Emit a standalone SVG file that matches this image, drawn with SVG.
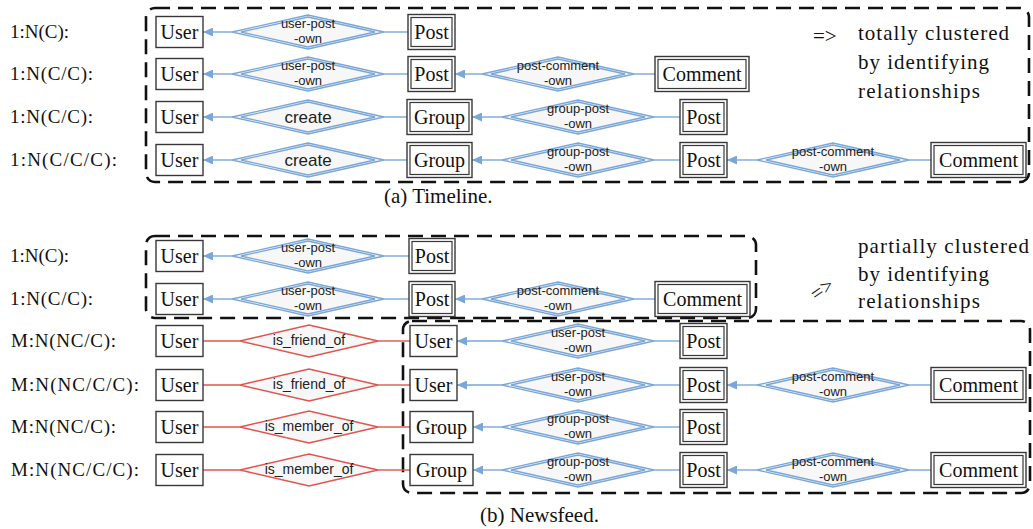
<svg xmlns="http://www.w3.org/2000/svg" xmlns:xlink="http://www.w3.org/1999/xlink" width="1033" height="529" viewBox="0 0 1033 529">
  <style>
    .lbl { font-family: "Liberation Serif", "Times New Roman", serif; font-size: 19px; fill: #111; }
    .side { font-family: "Liberation Serif", "Times New Roman", serif; font-size: 21px; fill: #111; }
    .cap { font-family: "Liberation Serif", "Times New Roman", serif; font-size: 21px; fill: #111; }
    .ent { font-family: "Liberation Serif", "Times New Roman", serif; font-size: 20px; fill: #111; text-anchor: middle; }
    .rel { font-family: "Liberation Sans", Arial, sans-serif; font-size: 13px; fill: #222; text-anchor: middle; }
    .rel-red { font-family: "Liberation Sans", Arial, sans-serif; font-size: 14px; fill: #222; text-anchor: middle; }
    .rel-big { font-family: "Liberation Sans", Arial, sans-serif; font-size: 17px; fill: #222; text-anchor: middle; }
    .box { fill: #fff; stroke: #383838; stroke-width: 1.4; }
    .wbox { fill: none; stroke: #383838; stroke-width: 1.2; }
    .dia { fill: #f7f7f7; stroke: #7aa6d8; stroke-width: 1.3; }
    .rdia { fill: #f7f7f7; stroke: #e0554d; stroke-width: 1.4; }
    .cb { stroke: #7aa6d8; stroke-width: 1.4; fill: none; }
    .cr { stroke: #e0554d; stroke-width: 1.4; fill: none; }
    .arr { marker-end: url(#ah); }
    .dash { fill: none; stroke: #111; stroke-width: 2.6; stroke-dasharray: 15 8; }
    .sym { font-family: "Liberation Serif", "Times New Roman", serif; font-size: 21px; fill: #111; }
  </style>
  <defs>
    <marker id="ah" viewBox="0 0 10 9" refX="10" refY="4.5" markerWidth="10" markerHeight="9" markerUnits="userSpaceOnUse" orient="auto">
      <path d="M0,0 L10,4.5 L0,9 z" fill="#7aa6d8"/>
    </marker>
    <!-- identifying relationship: double diamond -->
    <g id="ddia" class="dia">
      <polygon points="-76,0 0,-17 76,0 0,17"/>
      <polygon points="-67,0 0,-15 67,0 0,15"/>
    </g>
    <!-- non-identifying relationship: single red diamond -->
    <polygon id="rd" class="rdia" points="-69,0 0,-16 69,0 0,16"/>
  </defs>

  <rect width="1033" height="529" fill="#fff"/>

  <!-- cluster outlines -->
  <g id="clusters">
    <rect class="dash" x="146" y="8" width="883" height="174" rx="9"/>
    <rect class="dash" x="146" y="236" width="610" height="82" rx="9"/>
    <rect class="dash" x="403" y="321" width="627" height="172" rx="9"/>
  </g>

  <!-- row labels -->
  <g id="row-labels" class="lbl">
    <text x="10" y="38" textLength="59" lengthAdjust="spacing">1:N(C):</text>
    <text x="10" y="80" textLength="83" lengthAdjust="spacing">1:N(C/C):</text>
    <text x="10" y="123" textLength="83" lengthAdjust="spacing">1:N(C/C):</text>
    <text x="10" y="166" textLength="107" lengthAdjust="spacing">1:N(C/C/C):</text>
    <text x="10" y="262" textLength="59" lengthAdjust="spacing">1:N(C):</text>
    <text x="10" y="305" textLength="83" lengthAdjust="spacing">1:N(C/C):</text>
    <text x="11" y="347" textLength="105" lengthAdjust="spacing">M:N(NC/C):</text>
    <text x="11" y="391" textLength="128" lengthAdjust="spacing">M:N(NC/C/C):</text>
    <text x="11" y="433" textLength="105" lengthAdjust="spacing">M:N(NC/C):</text>
    <text x="11" y="476" textLength="128" lengthAdjust="spacing">M:N(NC/C/C):</text>
  </g>

  <!-- connectors -->
  <g id="connectors">
    <!-- (a) row 1 -->
    <line class="cb arr" x1="232" y1="32" x2="203" y2="32"/>
    <line class="cb" x1="384" y1="32" x2="408" y2="32"/>
    <!-- (a) row 2 -->
    <line class="cb arr" x1="232" y1="74" x2="203" y2="74"/>
    <line class="cb" x1="384" y1="74" x2="408" y2="74"/>
    <line class="cb arr" x1="482" y1="74" x2="455" y2="74"/>
    <line class="cb" x1="634" y1="74" x2="655" y2="74"/>
    <!-- (a) row 3 -->
    <line class="cb arr" x1="232" y1="117" x2="203" y2="117"/>
    <line class="cb" x1="384" y1="117" x2="407" y2="117"/>
    <line class="cb arr" x1="502" y1="117" x2="472" y2="117"/>
    <line class="cb" x1="654" y1="117" x2="680" y2="117"/>
    <!-- (a) row 4 -->
    <line class="cb arr" x1="232" y1="160" x2="203" y2="160"/>
    <line class="cb" x1="384" y1="160" x2="407" y2="160"/>
    <line class="cb arr" x1="502" y1="160" x2="472" y2="160"/>
    <line class="cb" x1="654" y1="160" x2="680" y2="160"/>
    <line class="cb arr" x1="757" y1="160" x2="727" y2="160"/>
    <line class="cb" x1="909" y1="160" x2="931" y2="160"/>
    <!-- (b) row 1 -->
    <line class="cb arr" x1="232" y1="256" x2="203" y2="256"/>
    <line class="cb" x1="384" y1="256" x2="409" y2="256"/>
    <!-- (b) row 2 -->
    <line class="cb arr" x1="232" y1="299" x2="203" y2="299"/>
    <line class="cb" x1="384" y1="299" x2="409" y2="299"/>
    <line class="cb arr" x1="482" y1="299" x2="455" y2="299"/>
    <line class="cb" x1="634" y1="299" x2="655" y2="299"/>
    <!-- (b) row 3 -->
    <line class="cr" x1="203" y1="341" x2="240" y2="341"/>
    <line class="cr" x1="378" y1="341" x2="410" y2="341"/>
    <line class="cb arr" x1="502" y1="341" x2="457" y2="341"/>
    <line class="cb" x1="654" y1="341" x2="680" y2="341"/>
    <!-- (b) row 4 -->
    <line class="cr" x1="203" y1="385" x2="240" y2="385"/>
    <line class="cr" x1="378" y1="385" x2="410" y2="385"/>
    <line class="cb arr" x1="502" y1="385" x2="457" y2="385"/>
    <line class="cb" x1="654" y1="385" x2="680" y2="385"/>
    <line class="cb arr" x1="757" y1="385" x2="727" y2="385"/>
    <line class="cb" x1="909" y1="385" x2="931" y2="385"/>
    <!-- (b) row 5 -->
    <line class="cr" x1="203" y1="427" x2="240" y2="427"/>
    <line class="cr" x1="378" y1="427" x2="410" y2="427"/>
    <line class="cb arr" x1="502" y1="427" x2="473" y2="427"/>
    <line class="cb" x1="654" y1="427" x2="680" y2="427"/>
    <!-- (b) row 6 -->
    <line class="cr" x1="203" y1="470" x2="240" y2="470"/>
    <line class="cr" x1="378" y1="470" x2="410" y2="470"/>
    <line class="cb arr" x1="502" y1="470" x2="473" y2="470"/>
    <line class="cb" x1="654" y1="470" x2="680" y2="470"/>
    <line class="cb arr" x1="757" y1="470" x2="727" y2="470"/>
    <line class="cb" x1="909" y1="470" x2="931" y2="470"/>
  </g>

  <!-- ===== (a) Timeline ===== -->
  <!-- row 1 -->
  <g id="a1-user"><rect class="box" x="156" y="16.5" width="47" height="31"/><text class="ent" x="179.5" y="38.5">User</text></g>
  <g id="a1-user-post-own"><use xlink:href="#ddia" x="308" y="32"/><text class="rel" x="308" y="28">user-post</text><text class="rel" x="308" y="43">-own</text></g>
  <g id="a1-post"><rect class="box" x="408" y="14.5" width="47" height="35"/><rect class="wbox" x="411" y="17.5" width="41" height="29"/><text class="ent" x="431.5" y="38.5">Post</text></g>
  <!-- row 2 -->
  <g id="a2-user"><rect class="box" x="156" y="58.5" width="47" height="31"/><text class="ent" x="179.5" y="80.5">User</text></g>
  <g id="a2-user-post-own"><use xlink:href="#ddia" x="308" y="74"/><text class="rel" x="308" y="70">user-post</text><text class="rel" x="308" y="85">-own</text></g>
  <g id="a2-post"><rect class="box" x="408" y="56.5" width="47" height="35"/><rect class="wbox" x="411" y="59.5" width="41" height="29"/><text class="ent" x="431.5" y="80.5">Post</text></g>
  <g id="a2-post-comment-own"><use xlink:href="#ddia" x="558" y="74"/><text class="rel" x="558" y="70">post-comment</text><text class="rel" x="558" y="85">-own</text></g>
  <g id="a2-comment"><rect class="box" x="655" y="56.5" width="94" height="35"/><rect class="wbox" x="658" y="59.5" width="88" height="29"/><text class="ent" x="702" y="80.5">Comment</text></g>
  <!-- row 3 -->
  <g id="a3-user"><rect class="box" x="156" y="101.5" width="47" height="31"/><text class="ent" x="179.5" y="123.5">User</text></g>
  <g id="a3-create"><use xlink:href="#ddia" x="308" y="117"/><text class="rel-big" x="308" y="122.5">create</text></g>
  <g id="a3-group"><rect class="box" x="407" y="99.5" width="65" height="35"/><rect class="wbox" x="410" y="102.5" width="59" height="29"/><text class="ent" x="439.5" y="123.5">Group</text></g>
  <g id="a3-group-post-own"><use xlink:href="#ddia" x="578" y="117"/><text class="rel" x="578" y="113">group-post</text><text class="rel" x="578" y="128">-own</text></g>
  <g id="a3-post"><rect class="box" x="680" y="99.5" width="47" height="35"/><rect class="wbox" x="683" y="102.5" width="41" height="29"/><text class="ent" x="703.5" y="123.5">Post</text></g>
  <!-- row 4 -->
  <g id="a4-user"><rect class="box" x="156" y="144.5" width="47" height="31"/><text class="ent" x="179.5" y="166.5">User</text></g>
  <g id="a4-create"><use xlink:href="#ddia" x="308" y="160"/><text class="rel-big" x="308" y="165.5">create</text></g>
  <g id="a4-group"><rect class="box" x="407" y="142.5" width="65" height="35"/><rect class="wbox" x="410" y="145.5" width="59" height="29"/><text class="ent" x="439.5" y="166.5">Group</text></g>
  <g id="a4-group-post-own"><use xlink:href="#ddia" x="578" y="160"/><text class="rel" x="578" y="156">group-post</text><text class="rel" x="578" y="171">-own</text></g>
  <g id="a4-post"><rect class="box" x="680" y="142.5" width="47" height="35"/><rect class="wbox" x="683" y="145.5" width="41" height="29"/><text class="ent" x="703.5" y="166.5">Post</text></g>
  <g id="a4-post-comment-own"><use xlink:href="#ddia" x="833" y="160"/><text class="rel" x="833" y="156">post-comment</text><text class="rel" x="833" y="171">-own</text></g>
  <g id="a4-comment"><rect class="box" x="931" y="142.5" width="95" height="35"/><rect class="wbox" x="934" y="145.5" width="89" height="29"/><text class="ent" x="978.5" y="166.5">Comment</text></g>

  <g id="a-note" class="side">
    <text class="sym" x="813" y="43">=&gt;</text>
    <text x="858" y="40" textLength="151" lengthAdjust="spacing">totally clustered</text>
    <text x="858" y="69" textLength="131" lengthAdjust="spacing">by identifying</text>
    <text x="858" y="98" textLength="122" lengthAdjust="spacing">relationships</text>
  </g>
  <text id="a-caption" class="cap" x="384" y="203">(a) Timeline.</text>

  <!-- ===== (b) Newsfeed ===== -->
  <!-- row 1 -->
  <g id="b1-user"><rect class="box" x="156" y="240.5" width="47" height="31"/><text class="ent" x="179.5" y="262.5">User</text></g>
  <g id="b1-user-post-own"><use xlink:href="#ddia" x="308" y="256"/><text class="rel" x="308" y="252">user-post</text><text class="rel" x="308" y="267">-own</text></g>
  <g id="b1-post"><rect class="box" x="409" y="238.5" width="46" height="35"/><rect class="wbox" x="412" y="241.5" width="40" height="29"/><text class="ent" x="432" y="262.5">Post</text></g>
  <!-- row 2 -->
  <g id="b2-user"><rect class="box" x="156" y="283.5" width="47" height="31"/><text class="ent" x="179.5" y="305.5">User</text></g>
  <g id="b2-user-post-own"><use xlink:href="#ddia" x="308" y="299"/><text class="rel" x="308" y="295">user-post</text><text class="rel" x="308" y="310">-own</text></g>
  <g id="b2-post"><rect class="box" x="409" y="281.5" width="46" height="35"/><rect class="wbox" x="412" y="284.5" width="40" height="29"/><text class="ent" x="432" y="305.5">Post</text></g>
  <g id="b2-post-comment-own"><use xlink:href="#ddia" x="558" y="299"/><text class="rel" x="558" y="295">post-comment</text><text class="rel" x="558" y="310">-own</text></g>
  <g id="b2-comment"><rect class="box" x="655" y="281.5" width="95" height="35"/><rect class="wbox" x="658" y="284.5" width="89" height="29"/><text class="ent" x="702.5" y="305.5">Comment</text></g>
  <!-- row 3 -->
  <g id="b3-user"><rect class="box" x="156" y="325.5" width="47" height="31"/><text class="ent" x="179.5" y="347.5">User</text></g>
  <g id="b3-is-friend-of"><use xlink:href="#rd" x="309" y="341"/><text class="rel-red" x="309" y="345">is_friend_of</text></g>
  <g id="b3-user2"><rect class="box" x="410" y="325.5" width="47" height="31"/><text class="ent" x="433.5" y="347.5">User</text></g>
  <g id="b3-user-post-own"><use xlink:href="#ddia" x="578" y="341"/><text class="rel" x="578" y="337">user-post</text><text class="rel" x="578" y="352">-own</text></g>
  <g id="b3-post"><rect class="box" x="680" y="323.5" width="47" height="35"/><rect class="wbox" x="683" y="326.5" width="41" height="29"/><text class="ent" x="703.5" y="347.5">Post</text></g>
  <!-- row 4 -->
  <g id="b4-user"><rect class="box" x="156" y="369.5" width="47" height="31"/><text class="ent" x="179.5" y="391.5">User</text></g>
  <g id="b4-is-friend-of"><use xlink:href="#rd" x="309" y="385"/><text class="rel-red" x="309" y="389">is_friend_of</text></g>
  <g id="b4-user2"><rect class="box" x="410" y="369.5" width="47" height="31"/><text class="ent" x="433.5" y="391.5">User</text></g>
  <g id="b4-user-post-own"><use xlink:href="#ddia" x="578" y="385"/><text class="rel" x="578" y="381">user-post</text><text class="rel" x="578" y="396">-own</text></g>
  <g id="b4-post"><rect class="box" x="680" y="367.5" width="47" height="35"/><rect class="wbox" x="683" y="370.5" width="41" height="29"/><text class="ent" x="703.5" y="391.5">Post</text></g>
  <g id="b4-post-comment-own"><use xlink:href="#ddia" x="833" y="385"/><text class="rel" x="833" y="381">post-comment</text><text class="rel" x="833" y="396">-own</text></g>
  <g id="b4-comment"><rect class="box" x="931" y="367.5" width="95" height="35"/><rect class="wbox" x="934" y="370.5" width="89" height="29"/><text class="ent" x="978.5" y="391.5">Comment</text></g>
  <!-- row 5 -->
  <g id="b5-user"><rect class="box" x="156" y="411.5" width="47" height="31"/><text class="ent" x="179.5" y="433.5">User</text></g>
  <g id="b5-is-member-of"><use xlink:href="#rd" x="309" y="427"/><text class="rel-red" x="309" y="431">is_member_of</text></g>
  <g id="b5-group"><rect class="box" x="410" y="411.5" width="63" height="31"/><text class="ent" x="441.5" y="433.5">Group</text></g>
  <g id="b5-group-post-own"><use xlink:href="#ddia" x="578" y="427"/><text class="rel" x="578" y="423">group-post</text><text class="rel" x="578" y="438">-own</text></g>
  <g id="b5-post"><rect class="box" x="680" y="409.5" width="47" height="35"/><rect class="wbox" x="683" y="412.5" width="41" height="29"/><text class="ent" x="703.5" y="433.5">Post</text></g>
  <!-- row 6 -->
  <g id="b6-user"><rect class="box" x="156" y="454.5" width="47" height="31"/><text class="ent" x="179.5" y="476.5">User</text></g>
  <g id="b6-is-member-of"><use xlink:href="#rd" x="309" y="470"/><text class="rel-red" x="309" y="474">is_member_of</text></g>
  <g id="b6-group"><rect class="box" x="410" y="454.5" width="63" height="31"/><text class="ent" x="441.5" y="476.5">Group</text></g>
  <g id="b6-group-post-own"><use xlink:href="#ddia" x="578" y="470"/><text class="rel" x="578" y="466">group-post</text><text class="rel" x="578" y="481">-own</text></g>
  <g id="b6-post"><rect class="box" x="680" y="452.5" width="47" height="35"/><rect class="wbox" x="683" y="455.5" width="41" height="29"/><text class="ent" x="703.5" y="476.5">Post</text></g>
  <g id="b6-post-comment-own"><use xlink:href="#ddia" x="833" y="470"/><text class="rel" x="833" y="466">post-comment</text><text class="rel" x="833" y="481">-own</text></g>
  <g id="b6-comment"><rect class="box" x="931" y="452.5" width="95" height="35"/><rect class="wbox" x="934" y="455.5" width="89" height="29"/><text class="ent" x="978.5" y="476.5">Comment</text></g>

  <g id="b-note" class="side">
    <text class="sym" transform="translate(826,295) rotate(-35)" text-anchor="middle">=&gt;</text>
    <text x="858" y="253" textLength="171" lengthAdjust="spacing">partially clustered</text>
    <text x="858" y="281" textLength="131" lengthAdjust="spacing">by identifying</text>
    <text x="858" y="308" textLength="122" lengthAdjust="spacing">relationships</text>
  </g>
  <text id="b-caption" class="cap" x="480" y="522">(b) Newsfeed.</text>
</svg>
